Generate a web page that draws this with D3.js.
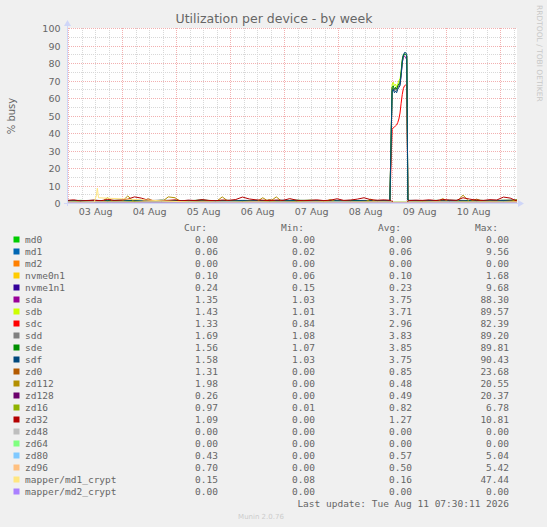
<!DOCTYPE html>
<html><head><meta charset="utf-8">
<script src="https://cdn.jsdelivr.net/npm/d3@7"></script>
<style>html,body{margin:0;padding:0;background:#F0F0F0;} svg{display:block}</style>
</head><body><svg id="c" width="547" height="527"></svg>
<script>
// ---------------- DATA ----------------
const title = "Utilization per device - by week";
const yLabel = "% busy";
const yTicks = [0,10,20,30,40,50,60,70,80,90,100];
const dayLabels = ["03 Aug","04 Aug","05 Aug","06 Aug","07 Aug","08 Aug","09 Aug","10 Aug"];
const names = ["md0","md1","md2","nvme0n1","nvme1n1","sda","sdb","sdc","sdd","sde","sdf",
  "zd0","zd112","zd128","zd16","zd32","zd48","zd64","zd80","zd96","mapper/md1_crypt","mapper/md2_crypt"];
const colors = ["#00CC00","#0066B3","#FF8000","#FFCC00","#330099","#990099","#CCFF00","#FF0000","#808080","#008F00","#00487D",
  "#B35A00","#B38F00","#6B006B","#8FB300","#B30000","#BEBEBE","#80FF80","#80C9FF","#FFC080","#FFE680","#AA80FF"];
const curV = [0.00,0.06,0.00,0.10,0.24,1.35,1.43,1.33,1.69,1.56,1.58,1.31,1.98,0.26,0.97,1.09,0.00,0.00,0.43,0.70,0.15,0.00];
const minV = [0.00,0.02,0.00,0.06,0.15,1.03,1.01,0.84,1.08,1.07,1.03,0.00,0.00,0.00,0.01,0.00,0.00,0.00,0.00,0.00,0.08,0.00];
const avgV = [0.00,0.06,0.00,0.10,0.23,3.75,3.71,2.96,3.83,3.85,3.75,0.85,0.48,0.49,0.82,1.27,0.00,0.00,0.57,0.50,0.16,0.00];
const maxV = [0.00,9.56,0.00,1.68,9.68,88.30,89.57,82.39,89.20,89.81,90.43,23.68,20.55,20.37,6.78,10.81,0.00,0.00,5.04,5.42,47.44,0.00];
const lastUpdate = "Last update: Tue Aug 11 07:30:11 2026";

// time grids: hours after Aug 2 23:30 UTC
const hoursFlat = [0,200];
const hours3 = [0,3,6,9,12,15,18,21,24,27,30,33,36,39,42,45,48,51,54,57,60,63,66,69,72,75,78,81,84,87,90,93,96,99,102,105,108,111,114,117,120,123,126,129,132,135,138,141,
  144,145,151,152,155,158,161,164,167,170,173,176,179,182,185,188,191,194,197,200];
const hours6 = [0,6,12,18,24,30,36,42,48,54,60,66,72,78,84,90,96,102,108,114,120,126,132,138,
  144,145,151,152,158,164,170,176,182,188,194,200];
const sdHours = [0,6,12,18,24,30,36,42,48,54,60,66,72,78,84,90,96,102,108,114,120,126,132,138,143.5,
  144.5,145,145.5,146,146.5,147,147.5,148,148.5,149,149.5,150,150.5,151,
  151.5,152,158,164,170,176,182,188,194,200];
const cryptHours = [0,12,13,13.5,14,60,120,200];

const md0 = [0,0];
const md1 = [0.05,0.06,0.05,0.07,0.05,0.06,0.05,0.06,0.05,0.07,0.06,0.05,0.06,0.05,0.06,0.07,0.05,0.06,0.05,0.06,0.05,0.06,0.07,0.05,
  0.06,0.05,0.05,0.06, 0.06,0.05,0.06,0.07,0.05,0.06,0.05,0.06];
const md2 = [0,0];
const nvme0n1 = [0.10,0.11,0.09,0.10,0.12,0.10,0.09,0.11,0.10,0.10,0.09,0.11,0.10,0.12,0.10,0.09,0.10,0.11,0.10,0.09,0.10,0.11,0.10,0.10,
  0.10,0.10,0.10,0.10, 0.10,0.11,0.09,0.10,0.10,0.11,0.09,0.10];
const nvme1n1 = [0.23,0.25,0.21,0.24,0.22,0.23,0.26,0.22,0.23,0.24,0.21,0.23,0.25,0.22,0.23,0.24,0.22,0.23,0.21,0.24,0.23,0.22,0.25,0.23,
  0.23,0.22,0.22,0.23, 0.24,0.22,0.23,0.25,0.21,0.23,0.22,0.24];
const sda = [1.2,1.4,1.1,1.3,1.5,1.2,1.1,1.4,1.3,1.2,1.6,1.1,1.3,1.2,1.4,1.1,1.3,1.5,1.2,1.3,1.1,1.4,1.2,1.3,1.3,
  66,65,64,66,65,66,67,68,73,80,84,84,83,82,
  1.6,1.3,1.2,1.4,1.3,1.1,1.5,1.2,1.4,1.35];
const sdb = [1.3,1.2,1.5,1.1,1.4,1.3,1.2,1.5,1.1,1.3,1.4,1.2,1.5,1.3,1.1,1.4,1.2,1.3,1.6,1.1,1.3,1.2,1.4,1.3,1.4,
  68,69,67,68,66,68,70,71,75,81,84,85,85,84,
  1.7,1.4,1.3,1.2,1.5,1.4,1.1,1.3,1.5,1.43];
const sdc = [1.1,1.0,1.2,0.9,1.1,1.3,1.0,1.1,0.9,1.2,1.0,1.1,0.9,1.2,1.1,1.0,1.3,0.9,1.1,1.0,1.2,0.9,1.1,1.0,1.1,
  42,43,43.5,44,44.6,46,48,51.4,57,62,65.5,67,67.4,67,
  1.5,1.2,1.1,1.0,1.3,1.1,0.9,1.2,1.1,1.33];
const sdd = [1.4,1.3,1.6,1.2,1.5,1.4,1.3,1.7,1.2,1.4,1.5,1.3,1.6,1.4,1.2,1.5,1.3,1.4,1.7,1.2,1.4,1.3,1.5,1.4,1.5,
  65,66,64,65,64,66,67,68,74,81,84,85,85,84,
  1.8,1.5,1.4,1.3,1.6,1.5,1.2,1.4,1.6,1.69];
const sde = [1.3,1.5,1.2,1.4,1.6,1.3,1.2,1.5,1.4,1.3,1.7,1.2,1.4,1.3,1.5,1.2,1.4,1.6,1.3,1.4,1.2,1.5,1.3,1.4,1.4,
  66,67,65,66,65,67,68,69,75,82,85,85,85,84,
  1.7,1.4,1.3,1.5,1.4,1.2,1.6,1.3,1.5,1.56];
const sdf = [1.4,1.3,1.5,1.2,1.4,1.6,1.3,1.4,1.2,1.5,1.3,1.4,1.2,1.5,1.4,1.3,1.6,1.2,1.4,1.3,1.5,1.2,1.4,1.3,1.4,
  64,65,63,64,63,65,66,67,73,80,84,86,86,85,
  1.8,1.5,1.4,1.3,1.5,1.4,1.2,1.5,1.4,1.58];
const zd0 = [0.8,1.0,0.7,0.9,1.1,0.8,0.6,0.9,1.2,0.8,1.0,0.7,2.4,0.9,0.8,1.0,0.7,0.9,1.1,0.8,0.9,1.3,0.8,0.7,0.9,1.0,0.8,1.1,0.9,0.7,2.0,0.8,1.0,0.9,0.8,1.1,0.7,0.9,1.0,0.8,0.9,1.2,0.8,0.7,1.0,0.9,0.8,1.0,
  0.9,0.1,0.1,0.9,
  0.8,1.0,0.9,0.7,1.1,0.8,0.9,1.0,0.8,2.2,0.9,0.8,1.0,0.9,1.1,1.31];
const zd112 = [0.3,0.4,0.3,0.5,0.3,0.4,3.0,0.5,0.4,4.0,0.6,0.3,0.4,0.3,0.5,3.5,3.0,0.4,0.3,0.5,0.4,0.3,0.5,3.5,0.6,0.4,0.3,0.5,0.4,3.0,0.6,3.5,0.4,0.3,0.5,0.4,0.3,0.6,0.4,2.0,0.5,0.3,0.4,0.5,0.3,2.2,0.4,0.3,
  0.3,0.0,0.0,0.4,
  0.3,0.5,0.4,0.3,2.5,0.4,0.3,4.5,0.5,0.4,0.3,0.6,0.4,0.5,0.6,1.98];
const zd128 = [0.5,0.4,0.6,0.5,0.4,0.5,0.7,0.4,0.5,0.6,0.4,0.5,0.5,0.6,0.4,0.5,0.5,0.7,0.4,0.5,0.6,0.4,0.5,0.5,
  0.5,0.1,0.1,0.5, 0.4,0.5,0.6,0.4,0.5,0.3,0.5,0.26];
const zd16 = [0.8,0.9,0.7,0.8,1.0,0.8,0.7,0.9,0.8,0.8,1.0,0.7,0.9,0.8,0.8,0.9,0.7,0.8,1.0,0.8,0.9,0.7,0.8,0.9,
  0.8,0.5,0.5,0.8, 0.9,0.8,0.7,0.9,0.8,1.0,0.8,0.97];
const zd32 = [1.5,1.8,1.2,1.4,1.6,1.3,2.0,1.5,1.7,2.2,3.5,2.8,1.6,1.4,1.2,1.5,1.8,1.3,1.6,1.4,1.9,1.5,1.3,1.7,1.5,2.0,3.4,2.3,1.8,1.6,1.4,1.7,1.5,2.5,1.6,1.3,1.5,1.8,1.4,1.6,2.4,1.5,1.7,2.2,3.0,1.9,1.6,1.8,
  1.5,0.2,0.2,1.4,
  1.6,1.5,1.8,1.4,2.0,1.7,1.5,3.0,2.2,1.6,1.5,1.9,1.7,3.4,2.8,1.09];
const zd48 = [0,0];
const zd64 = [0,0];
const zd80 = [0.6,0.5,0.7,0.5,0.6,0.4,0.6,0.7,0.5,0.6,0.5,0.6,0.7,0.5,0.6,0.5,0.6,0.4,0.6,0.5,0.7,0.6,0.5,0.6,
  0.6,0.1,0.1,0.6, 0.5,0.6,0.7,0.5,0.6,0.5,0.6,0.43];
const zd96 = [0.5,0.4,0.6,0.5,0.5,0.4,0.6,0.5,0.5,0.4,0.6,0.5,0.4,0.5,0.6,0.5,0.4,0.5,0.5,0.6,0.4,0.5,0.5,0.6,
  0.5,0.1,0.1,0.5, 0.5,0.6,0.4,0.5,0.5,0.6,0.5,0.70];
const md1Crypt = [0.15,0.15,4.0,8.5,3.0,0.16,0.15,0.15];
const md2Crypt = [0,0];

const seriesValues = [md0,md1,md2,nvme0n1,nvme1n1,sda,sdb,sdc,sdd,sde,sdf,zd0,zd112,zd128,zd16,zd32,zd48,zd64,zd80,zd96,md1Crypt,md2Crypt];
const seriesHours = [hoursFlat,hours6,hoursFlat,hours6,hours6,sdHours,sdHours,sdHours,sdHours,sdHours,sdHours,
  hours3,hours3,hours6,hours6,hours3,hoursFlat,hoursFlat,hours6,hours6,cryptHours,hoursFlat];

// ---------------- DRAW ----------------
const svg = d3.select("#c");
const W = 547, H = 527;
const L = 67, R = 517, T = 28, B = 203;
const t0 = Date.UTC(2026,7,2,23,30);
const hr = 3600e3;
const x = d3.scaleUtc().domain([new Date(t0), new Date(t0 + 200*hr)]).range([L, R]);
const y = d3.scaleLinear().domain([0,100]).range([B, T]);

svg.append("rect").attr("width",W).attr("height",H).attr("fill","#F0F0F0");
svg.append("rect").attr("x",L).attr("y",T).attr("width",R-L).attr("height",B-T).attr("fill","#FFFFFF");

const font = "'DejaVu Sans', sans-serif";
const mono = "'DejaVu Sans Mono', monospace";
const fg = "#666666";

// grid
const g = svg.append("g").attr("shape-rendering","crispEdges");
const minorX = x.ticks(d3.utcHour.every(6)).filter(d => d.getUTCHours() !== 0);
const majorX = d3.utcDay.range(x.domain()[0], x.domain()[1]);
const minorCol = "#D8D8D8", majorCol = "#F2B0B0";
g.selectAll(".mx").data(minorX).join("line")
  .attr("x1", d => Math.round(x(d))+0.5).attr("x2", d => Math.round(x(d))+0.5)
  .attr("y1", T).attr("y2", B).attr("stroke",minorCol).attr("stroke-dasharray","1,1");
const minorY = [5,15,25,35,45,55,65,75,85,95];
g.selectAll(".my").data(minorY).join("line")
  .attr("x1", L).attr("x2", R)
  .attr("y1", d => Math.round(y(d))+0.5).attr("y2", d => Math.round(y(d))+0.5)
  .attr("stroke",minorCol).attr("stroke-dasharray","1,1");
g.selectAll(".Mx").data(majorX).join("line")
  .attr("x1", d => Math.round(x(d))+0.5).attr("x2", d => Math.round(x(d))+0.5)
  .attr("y1", T).attr("y2", B).attr("stroke",majorCol).attr("stroke-dasharray","1,1");
g.selectAll(".My").data(yTicks.filter(v => v > 0)).join("line")
  .attr("x1", L).attr("x2", R)
  .attr("y1", d => Math.round(y(d))+0.5).attr("y2", d => Math.round(y(d))+0.5)
  .attr("stroke",majorCol).attr("stroke-dasharray","1,1");

// series lines
const line = d3.line().x(d => x(new Date(t0 + d[0]*hr))).y(d => y(d[1]));
seriesValues.forEach((vals, i) => {
  const hrs = seriesHours[i];
  const pts = vals.map((v, k) => [hrs[k], v]);
  svg.append("path").attr("d", line(pts)).attr("fill","none")
    .attr("stroke", colors[i]).attr("stroke-width", 1).attr("stroke-linejoin","round");
});

// axes lines + arrows
const axisCol = "#CFD6F8";
svg.append("line").attr("x1",L+0.5).attr("x2",L+0.5).attr("y1",T-4).attr("y2",B+3)
  .attr("stroke",axisCol).attr("shape-rendering","crispEdges");
svg.append("line").attr("x1",L-3).attr("x2",R+3).attr("y1",B+0.5).attr("y2",B+0.5)
  .attr("stroke",axisCol).attr("shape-rendering","crispEdges");
svg.append("path").attr("d",`M${L+0.5},${T-8} L${L-3},${T-2} L${L+4},${T-2} Z`).attr("fill",axisCol);
svg.append("path").attr("d",`M${R+7},${B+0.5} L${R+1},${B-3} L${R+1},${B+4} Z`).attr("fill",axisCol);

// y axis ticks
const yAxis = d3.axisLeft(y).tickValues(yTicks).tickSize(0).tickPadding(0);
const ya = svg.append("g").attr("transform",`translate(${L-6.5},0.5)`).call(yAxis);
ya.select(".domain").remove();
ya.selectAll("text").attr("font-family",font).attr("font-size","9.5px").attr("fill",fg).attr("dy","0.36em");

// x axis labels at noon
const noons = majorX.map(d => new Date(+d + 12*hr));
const xAxis = d3.axisBottom(x).tickValues(noons).tickFormat((d,i) => dayLabels[i]).tickSize(0).tickPadding(0);
const xa = svg.append("g").attr("transform",`translate(0,${B+5})`).call(xAxis);
xa.select(".domain").remove();
xa.selectAll("text").attr("font-family",font).attr("font-size","9.5px").attr("fill",fg).attr("dy","0.71em");

// title and labels
svg.append("text").attr("x",274).attr("y",23).attr("text-anchor","middle")
  .attr("font-family",font).attr("font-size","12.5px").attr("fill",fg).text(title);
svg.append("text").attr("transform","translate(15,116) rotate(-90)").attr("text-anchor","middle")
  .attr("font-family",font).attr("font-size","10px").attr("fill",fg).text(yLabel);
svg.append("text").attr("transform","translate(537,5) rotate(90)").attr("text-anchor","start")
  .attr("font-family",font).attr("font-size","7.5px").attr("fill","#C8C8C8").text("RRDTOOL / TOBI OETIKER");

// legend
const colsX = [218, 315, 412, 509];
const heads = ["Cur:","Min:","Avg:","Max:"];
const f2 = d3.format(".2f");
heads.forEach((h,j) => {
  svg.append("text").attr("x",colsX[j]-11).attr("y",231).attr("text-anchor","end")
    .attr("font-family",mono).attr("font-size","9.5px").attr("fill",fg).text(h);
});
const rows = svg.selectAll(".lg").data(names).join("g")
  .attr("transform",(d,i) => `translate(0,${243 + 12*i})`);
rows.append("rect").attr("x",13.5).attr("y",-6.5).attr("width",6).attr("height",6)
  .attr("fill",(d,i) => colors[i]);
rows.append("text").attr("x",25).attr("y",0).attr("font-family",mono).attr("font-size","9.5px")
  .attr("fill",fg).text(d => d);
[curV,minV,avgV,maxV].forEach((arr,j) => {
  rows.append("text").attr("x",colsX[j]).attr("y",0).attr("text-anchor","end")
    .attr("font-family",mono).attr("font-size","9.5px").attr("fill",fg).text((d,i) => f2(arr[i]));
});
svg.append("text").attr("x",509).attr("y",507).attr("text-anchor","end")
  .attr("font-family",mono).attr("font-size","9.5px").attr("fill",fg).text(lastUpdate);
svg.append("text").attr("x",261).attr("y",519).attr("text-anchor","middle")
  .attr("font-family",font).attr("font-size","7px").attr("fill","#CCCCCC").text("Munin 2.0.76");
</script></body></html>
